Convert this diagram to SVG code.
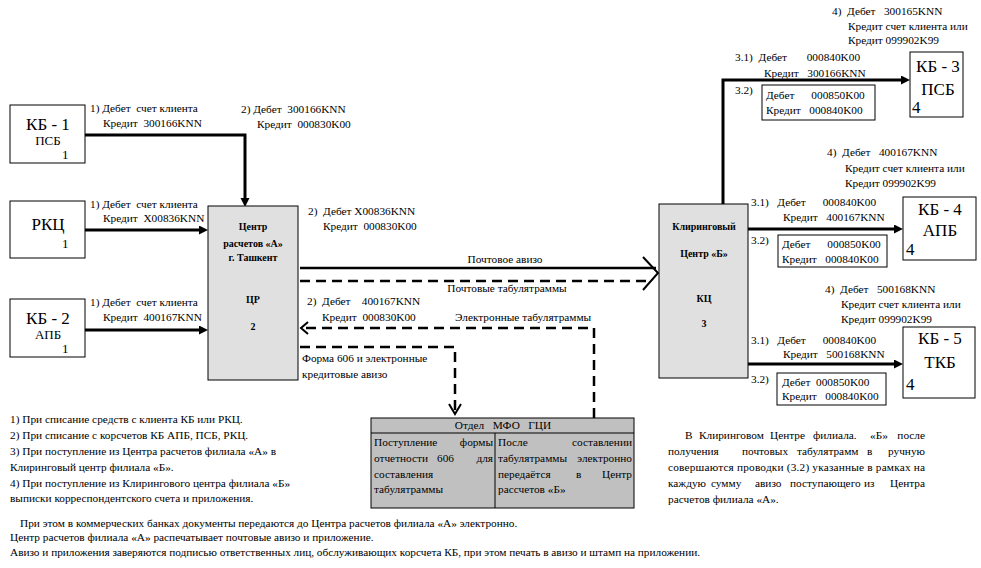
<svg xmlns="http://www.w3.org/2000/svg" width="981" height="568" viewBox="0 0 981 568">
<style>
text { font-family: "Liberation Serif", "DejaVu Serif", serif; fill: #000; white-space: pre; }
.lb { font-size: 11.3px; }
.big { font-size: 17px; }
.mid { font-size: 13px; }
.bd { font-size: 10px; font-weight: bold; text-anchor: middle; }
.c { text-anchor: middle; }
.e { text-anchor: end; }
.box { fill: #fff; stroke: #000; stroke-width: 1; }
.ctr { fill: #e0e0e0; stroke: #000; stroke-width: 1; }
.mfo { fill: #c0c0c0; stroke: #000; stroke-width: 1; }
.thick { fill: none; stroke: #000; stroke-width: 3; }
.solid { fill: none; stroke: #000; stroke-width: 2.5; }
.dash { fill: none; stroke: #000; stroke-width: 2.5; stroke-dasharray: 10 6; }
.chev { fill: none; stroke: #000; stroke-width: 2; }
</style>
<defs>
<marker id="ah" markerUnits="userSpaceOnUse" markerWidth="10" markerHeight="10" refX="4" refY="4.5" orient="auto">
<path d="M0,0 L9,4.5 L0,9 z" fill="#000"/>
</marker>
</defs>

<g id="connectors">
<path class="thick" d="M85,135 H245 V202" marker-end="url(#ah)"/>
<path class="thick" d="M85,230 H203" marker-end="url(#ah)"/>
<path class="thick" d="M85,330 H203" marker-end="url(#ah)"/>
<path class="solid" d="M300,268 H656"/>
<path class="dash" d="M300,281 H652"/>
<polyline class="chev" points="643,257 658,273 643,290"/>
<path class="dash" d="M594,418 V328 H306"/>
<polyline class="chev" points="308,322 301,328 308,334"/>
<path class="dash" d="M300,347 H455 V412"/>
<polyline class="chev" points="449,404 455,414 461,404"/>
<path class="thick" d="M723,204 V80 H905" marker-end="url(#ah)"/>
<path class="thick" d="M748,229 H898" marker-end="url(#ah)"/>
<path class="thick" d="M748,364 H898" marker-end="url(#ah)"/>
</g>

<g id="kb1">
<rect class="box" x="10" y="105" width="75" height="58"/>
<text class="big c" x="48" y="130">КБ - 1</text>
<text class="mid c" x="48" y="145">ПСБ</text>
<text class="mid" x="62" y="159">1</text>
</g>
<g id="rkc">
<rect class="box" x="10" y="201" width="75" height="57"/>
<text class="big c" x="48" y="230">РКЦ</text>
<text class="mid" x="62" y="248">1</text>
</g>
<g id="kb2">
<rect class="box" x="10" y="299" width="75" height="58"/>
<text class="big c" x="48" y="324">КБ - 2</text>
<text class="mid c" x="48" y="339">АПБ</text>
<text class="mid" x="62" y="353">1</text>
</g>

<g id="cr">
<rect class="ctr" x="208" y="206" width="90" height="174"/>
<text class="bd" x="253" y="230">Центр</text>
<text class="bd" x="253" y="247">расчетов «А»</text>
<text class="bd" x="253" y="261">г. Ташкент</text>
<text class="bd" x="253" y="303">ЦР</text>
<text class="bd" x="253" y="330">2</text>
</g>

<g id="kc">
<rect class="ctr" x="659" y="204" width="89" height="174"/>
<text class="bd" x="704" y="230">Клиринговый</text>
<text class="bd" x="704" y="257">Центр «Б»</text>
<text class="bd" x="704" y="302">КЦ</text>
<text class="bd" x="704" y="327">3</text>
</g>

<g id="kb3">
<rect class="box" x="910" y="52" width="53" height="65"/>
<text class="big c" x="938" y="72">КБ - 3</text>
<text class="big c" x="938" y="95">ПСБ</text>
<text class="big" x="912" y="113">4</text>
</g>
<g id="kb4">
<rect class="box" x="903" y="197" width="73" height="63"/>
<text class="big c" x="940" y="215">КБ - 4</text>
<text class="big c" x="940" y="236">АПБ</text>
<text class="big" x="906" y="255">4</text>
</g>
<g id="kb5">
<rect class="box" x="903" y="327" width="72" height="71"/>
<text class="big c" x="940" y="344">КБ - 5</text>
<text class="big c" x="940" y="368">ТКБ</text>
<text class="big" x="906" y="390">4</text>
</g>

<g id="mfo">
<rect class="mfo" x="371" y="418" width="263" height="90"/>
<line x1="371" y1="433" x2="634" y2="433" stroke="#000" stroke-width="1"/>
<line x1="495" y1="433" x2="495" y2="508" stroke="#000" stroke-width="1"/>
<text class="lb c" xml:space="preserve" x="503" y="429">Отдел   МФО   ГЦИ</text>
<text class="lb"><tspan x="374" y="446">Поступление</tspan> <tspan x="493" y="446" text-anchor="end">формы</tspan></text>
<text class="lb"><tspan x="374" y="462">отчетности</tspan> <tspan x="437" y="462">606</tspan> <tspan x="493" y="462" text-anchor="end">для</tspan></text>
<text class="lb" x="374" y="478">составления</text>
<text class="lb" x="374" y="493">табулятраммы</text>
<text class="lb"><tspan x="498" y="446">После</tspan> <tspan x="632" y="446" text-anchor="end">составлении</tspan></text>
<text class="lb"><tspan x="498" y="462">табулятраммы</tspan> <tspan x="632" y="462" text-anchor="end">электронно</tspan></text>
<text class="lb"><tspan x="498" y="478">передаётся</tspan> <tspan x="576" y="478">в</tspan> <tspan x="632" y="478" text-anchor="end">Центр</tspan></text>
<text class="lb" x="498" y="493">рассчетов «Б»</text>
</g>

<g id="labels">
<text class="lb" xml:space="preserve" x="90" y="112">1) Дебет  счет клиента</text>
<text class="lb" xml:space="preserve" x="103" y="127">Кредит  300166KNN</text>
<text class="lb" xml:space="preserve" x="241" y="113">2) Дебет  300166KNN</text>
<text class="lb" xml:space="preserve" x="257" y="128">Кредит  000830K00</text>
<text class="lb" xml:space="preserve" x="90" y="208">1) Дебет  счет клиента</text>
<text class="lb" xml:space="preserve" x="103" y="222">Кредит  X00836KNN</text>
<text class="lb" xml:space="preserve" x="308" y="215">2)  Дебет X00836KNN</text>
<text class="lb" xml:space="preserve" x="323" y="230">Кредит  000830K00</text>
<text class="lb" xml:space="preserve" x="90" y="306">1) Дебет  счет клиента</text>
<text class="lb" xml:space="preserve" x="103" y="321">Кредит  400167KNN</text>
<text class="lb c" x="505" y="263">Почтовое авизо</text>
<text class="lb c" x="507" y="292">Почтовые табулятраммы</text>
<text class="lb" xml:space="preserve" x="307" y="305">2)  Дебет    400167KNN</text>
<text class="lb" xml:space="preserve" x="322" y="321">Кредит  000830K00</text>
<text class="lb" x="455" y="321">Электронные табулятраммы</text>
<text class="lb" x="302" y="362">Форма 606 и электронные</text>
<text class="lb" x="302" y="378">кредитовые авизо</text>

<text class="lb" xml:space="preserve" x="832" y="15">4)  Дебет   300165KNN</text>
<text class="lb" x="848" y="30">Кредит счет клиента или</text>
<text class="lb" x="848" y="44">Кредит 099902K99</text>
<text class="lb" xml:space="preserve" x="735" y="61">3.1)  Дебет       000840K00</text>
<text class="lb" xml:space="preserve" x="764" y="77">Кредит   300166KNN</text>
<text class="lb" x="735" y="94">3.2)</text>
<rect class="box" x="762" y="85" width="113" height="35"/>
<text class="lb" xml:space="preserve" x="766" y="99">Дебет      000850K00</text>
<text class="lb" xml:space="preserve" x="766" y="114">Кредит   000840K00</text>

<text class="lb" xml:space="preserve" x="827" y="156">4)  Дебет   400167KNN</text>
<text class="lb" x="845" y="172">Кредит счет клиента или</text>
<text class="lb" x="845" y="187">Кредит 099902K99</text>
<text class="lb" xml:space="preserve" x="751" y="206">3.1)   Дебет      000840K00</text>
<text class="lb" xml:space="preserve" x="783" y="221">Кредит   400167KNN</text>
<text class="lb" x="751" y="244">3.2)</text>
<rect class="box" x="778" y="235" width="109" height="32"/>
<text class="lb" xml:space="preserve" x="782" y="248">Дебет      000850K00</text>
<text class="lb" xml:space="preserve" x="782" y="263">Кредит   000840K00</text>

<text class="lb" xml:space="preserve" x="825" y="293">4)  Дебет   500168KNN</text>
<text class="lb" x="841" y="308">Кредит счет клиента или</text>
<text class="lb" x="841" y="323">Кредит 099902K99</text>
<text class="lb" xml:space="preserve" x="751" y="344">3.1)   Дебет      000840K00</text>
<text class="lb" xml:space="preserve" x="783" y="358">Кредит   500168KNN</text>
<text class="lb" x="751" y="383">3.2)</text>
<rect class="box" x="777" y="373" width="109" height="32"/>
<text class="lb" x="782" y="386">Дебет  000850K00</text>
<text class="lb" xml:space="preserve" x="782" y="400">Кредит   000840K00</text>
</g>

<g id="notes">
<text class="lb" x="10" y="423">1) При списание средств с клиента КБ или РКЦ.</text>
<text class="lb" x="10" y="439">2) При списание с корсчетов КБ АПБ, ПСБ, РКЦ.</text>
<text class="lb" x="10" y="455">3) При поступление из Центра расчетов филиала «А» в</text>
<text class="lb" x="10" y="471">Клиринговый центр филиала «Б».</text>
<text class="lb" x="10" y="487">4) При поступление из Клирингового центра филиала «Б»</text>
<text class="lb" x="10" y="502">выписки корреспондентского счета и приложения.</text>

<text class="lb"><tspan x="685" y="439">В</tspan> <tspan x="699" y="439">Клиринговом</tspan> <tspan x="770" y="439">Центре</tspan> <tspan x="813" y="439">филиала.</tspan> <tspan x="870" y="439">«Б»</tspan> <tspan x="925" y="439" text-anchor="end">после</tspan></text>
<text class="lb"><tspan x="668" y="455">получения</tspan> <tspan x="742" y="455">почтовых</tspan> <tspan x="797" y="455">табулятрамм</tspan> <tspan x="867" y="455">в</tspan> <tspan x="925" y="455" text-anchor="end">ручную</tspan></text>
<text class="lb" x="668" y="471" textLength="257" lengthAdjust="spacing">совершаются проводки (3.2) указанные в рамках на</text>
<text class="lb"><tspan x="668" y="487">каждую</tspan> <tspan x="711" y="487">сумму</tspan> <tspan x="755" y="487">авизо</tspan> <tspan x="790" y="487">поступающего</tspan> <tspan x="864" y="487">из</tspan> <tspan x="925" y="487" text-anchor="end">Центра</tspan></text>
<text class="lb" x="668" y="503">расчетов филиала «А».</text>

<text class="lb" x="20" y="527">При этом в коммерческих банках документы передаются до Центра расчетов филиала «А» электронно.</text>
<text class="lb" x="10" y="541">Центр расчетов филиала «А» распечатывает почтовые авизо и приложение.</text>
<text class="lb" x="10" y="556" textLength="690" lengthAdjust="spacing">Авизо и приложения заверяются подписью ответственных лиц, обслуживающих корсчета КБ, при этом печать в авизо и штамп на приложении.</text>
</g>
</svg>
